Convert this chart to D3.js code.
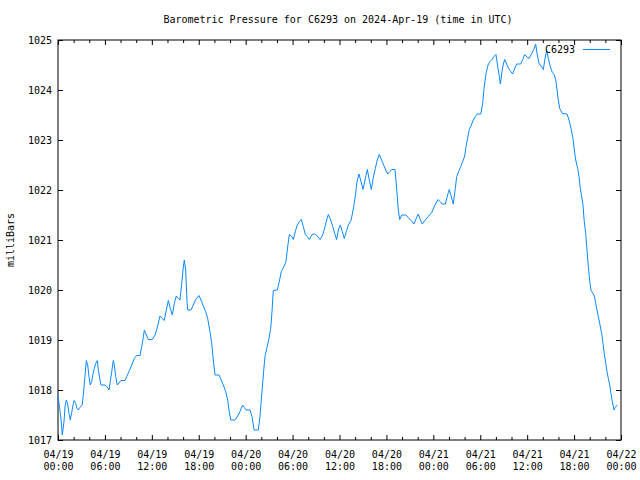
<!DOCTYPE html>
<html>
<head>
<meta charset="utf-8">
<title>Barometric Pressure C6293</title>
<script src="https://d3js.org/d3.v7.min.js"></script>
<style>
  body { margin: 0; background: #fff; }
  text { font-family: "DejaVu Sans Mono", monospace; font-size: 10px; fill: #000; }
</style>
</head>
<body>
<svg id="chart" width="640" height="480"></svg>
<script>
// hours after 2024-04-19 00:00 UTC
var hours = [0, 0.19, 0.38, 0.55, 0.77, 0.90, 1.06, 1.24, 1.41, 1.57, 1.75, 1.96, 2.08, 2.26, 2.43, 2.60, 2.78, 3.11, 3.29, 3.45,
  3.62, 3.80, 3.96, 4.13, 4.31, 4.48, 4.64, 4.82, 5.03, 5.15, 5.33, 5.50, 6.01, 6.31, 6.52, 6.69, 6.87, 7.07, 7.20, 7.38,
  7.58, 7.80, 8.06, 8.57, 8.79, 9.08, 9.43, 9.76, 10.06, 10.49, 10.70, 10.91, 11.04, 11.25, 11.55, 12.06, 12.41, 12.75, 13.04, 13.34,
  13.59, 13.85, 14.11, 14.36, 14.62, 14.87, 15.13, 15.39, 15.60, 15.82, 15.99, 16.15, 16.33, 16.50, 16.59, 17.01, 17.30, 17.61, 18.03, 18.29,
  18.58, 18.89, 19.14, 19.40, 19.66, 19.86, 20.08, 20.59, 20.85, 21.14, 21.45, 21.70, 21.87, 22.09, 22.64, 22.98, 23.28, 23.60, 23.83, 24.04,
  24.56, 24.81, 25.07, 25.62, 25.83, 26.05, 26.26, 26.47, 26.69, 26.95, 27.20, 27.37, 27.53, 28.05, 28.30, 28.56, 28.90, 29.16, 29.32, 29.58,
  29.89, 30.09, 30.35, 30.60, 30.86, 31.12, 31.37, 31.63, 31.88, 32.14, 32.48, 32.83, 33.16, 33.51, 33.85, 34.15, 34.36, 34.57, 34.88, 35.13,
  35.39, 35.64, 35.85, 36.10, 36.36, 36.61, 36.87, 37.13, 37.47, 37.64, 37.82, 38.07, 38.24, 38.49, 38.75, 39.01, 39.26, 39.56, 39.81, 40.07,
  40.32, 40.58, 40.83, 41.09, 41.40, 41.65, 41.91, 42.16, 42.46, 42.68, 43.10, 43.32, 43.52, 43.70, 43.96, 44.47, 44.80, 45.15, 45.53, 45.78,
  46.08, 46.33, 46.59, 46.93, 47.36, 47.79, 48.21, 48.60, 48.85, 49.11, 49.53, 49.79, 50.04, 50.30, 50.55, 50.81, 50.99, 51.24, 51.50, 51.76,
  52.01, 52.18, 52.35, 52.60, 52.86, 53.11, 53.37, 53.62, 54.06, 54.31, 54.48, 54.74, 54.99, 55.25, 55.50, 55.76, 56.01, 56.27, 56.44, 56.57,
  56.78, 56.95, 57.13, 57.38, 57.64, 57.90, 58.15, 58.41, 58.66, 59.17, 59.43, 59.69, 60.02, 60.24, 60.49, 60.84, 61.09, 61.26, 61.52, 61.77,
  62.07, 62.28, 62.50, 62.71, 62.96, 63.22, 63.47, 63.65, 63.82, 63.98, 64.16, 64.50, 65.10, 65.35, 65.61, 65.86, 66.03, 66.21, 66.46, 66.63,
  66.80, 66.97, 67.14, 67.30, 67.49, 67.65, 67.82, 68.00, 68.17, 68.42, 68.59, 68.77, 68.93, 69.10, 69.28, 69.53, 69.70, 69.86, 70.05, 70.21,
  70.38, 70.56, 70.72, 70.89, 71.11, 71.24, 71.41, 71.53];

var pressure = [1017.88, 1017.67, 1017.42, 1017.10, 1017.37, 1017.67, 1017.80, 1017.72, 1017.53, 1017.40, 1017.55, 1017.73, 1017.79, 1017.73, 1017.63, 1017.60, 1017.65, 1017.70, 1018.00, 1018.27,
  1018.59, 1018.50, 1018.27, 1018.10, 1018.17, 1018.33, 1018.43, 1018.53, 1018.59, 1018.41, 1018.24, 1018.10, 1018.10, 1018.06, 1018.00, 1018.17, 1018.37, 1018.59, 1018.50, 1018.27,
  1018.10, 1018.14, 1018.19, 1018.19, 1018.27, 1018.37, 1018.50, 1018.63, 1018.69, 1018.69, 1018.87, 1019.05, 1019.20, 1019.12, 1019.01, 1019.01, 1019.10, 1019.28, 1019.48, 1019.43,
  1019.39, 1019.60, 1019.79, 1019.63, 1019.50, 1019.73, 1019.88, 1019.83, 1019.80, 1020.13, 1020.40, 1020.60, 1020.40, 1019.77, 1019.60, 1019.60, 1019.70, 1019.81, 1019.89, 1019.80,
  1019.68, 1019.57, 1019.43, 1019.20, 1018.93, 1018.60, 1018.30, 1018.30, 1018.21, 1018.10, 1017.97, 1017.80, 1017.60, 1017.40, 1017.40, 1017.48, 1017.57, 1017.70, 1017.65, 1017.60,
  1017.60, 1017.47, 1017.20, 1017.20, 1017.47, 1017.90, 1018.30, 1018.67, 1018.83, 1019.00, 1019.23, 1019.57, 1019.99, 1020.00, 1020.17, 1020.37, 1020.47, 1020.57, 1020.80, 1021.11,
  1021.07, 1021.01, 1021.17, 1021.30, 1021.37, 1021.41, 1021.27, 1021.11, 1021.07, 1021.01, 1021.11, 1021.12, 1021.08, 1021.01, 1021.10, 1021.27, 1021.40, 1021.51, 1021.40, 1021.27,
  1021.13, 1021.01, 1021.20, 1021.30, 1021.17, 1021.03, 1021.17, 1021.30, 1021.39, 1021.52, 1021.67, 1021.93, 1022.17, 1022.32, 1022.17, 1022.01, 1022.20, 1022.41, 1022.20, 1022.01,
  1022.25, 1022.43, 1022.60, 1022.71, 1022.59, 1022.50, 1022.40, 1022.32, 1022.37, 1022.41, 1022.41, 1022.00, 1021.60, 1021.41, 1021.50, 1021.50, 1021.45, 1021.39, 1021.32, 1021.42,
  1021.52, 1021.41, 1021.32, 1021.39, 1021.47, 1021.55, 1021.70, 1021.81, 1021.77, 1021.72, 1021.72, 1021.88, 1022.01, 1021.87, 1021.72, 1022.03, 1022.27, 1022.37, 1022.47, 1022.57,
  1022.68, 1022.87, 1023.01, 1023.21, 1023.30, 1023.40, 1023.47, 1023.52, 1023.52, 1023.73, 1024.03, 1024.33, 1024.50, 1024.57, 1024.61, 1024.67, 1024.71, 1024.43, 1024.27, 1024.12,
  1024.37, 1024.52, 1024.61, 1024.52, 1024.43, 1024.37, 1024.32, 1024.43, 1024.52, 1024.52, 1024.61, 1024.71, 1024.65, 1024.63, 1024.70, 1024.81, 1024.92, 1024.73, 1024.53, 1024.48,
  1024.41, 1024.63, 1024.79, 1024.63, 1024.47, 1024.35, 1024.30, 1024.21, 1024.00, 1023.80, 1023.63, 1023.53, 1023.52, 1023.40, 1023.23, 1023.03, 1022.80, 1022.60, 1022.43, 1022.27,
  1022.03, 1021.87, 1021.70, 1021.37, 1021.13, 1020.80, 1020.47, 1020.17, 1019.99, 1019.93, 1019.88, 1019.73, 1019.60, 1019.47, 1019.33, 1019.13, 1018.93, 1018.73, 1018.53, 1018.37,
  1018.23, 1018.10, 1017.93, 1017.77, 1017.60, 1017.65, 1017.68, 1017.70];

var yTicks = [1017, 1018, 1019, 1020, 1021, 1022, 1023, 1024, 1025];
var xLabelHours = [0, 6, 12, 18, 24, 30, 36, 42, 48, 54, 60, 66, 72];
var xMinorHours = d3.range(0, 73, 2);

var title = "Barometric Pressure for C6293 on 2024-Apr-19 (time in UTC)";
var yTitle = "milliBars";
var seriesName = "C6293";
var lineColor = "#0a88ff";

var start = new Date(Date.UTC(2024, 3, 19, 0, 0));
function hToDate(h) { return new Date(start.getTime() + h * 3600000); }

var margin = { left: 58, right: 19, top: 40, bottom: 40 };
var width = 640, height = 480;
var svg = d3.select("#chart");

var x = d3.scaleUtc()
  .domain([hToDate(0), hToDate(72)])
  .range([margin.left, width - margin.right]);
var y = d3.scaleLinear()
  .domain([1017, 1025])
  .range([height - margin.bottom, margin.top]);

var fmtDay = d3.utcFormat("%m/%d"), fmtTime = d3.utcFormat("%H:%M");

// minor ticks every 2 hours (bottom and top, inward)
var minor = xMinorHours.filter(function (h) { return h % 6 !== 0; });
svg.append("g").attr("transform", "translate(0," + (height - margin.bottom) + ")")
  .call(d3.axisBottom(x).tickValues(minor.map(hToDate)).tickSizeInner(-3).tickSizeOuter(0).tickFormat(""))
  .call(function (g) { g.select(".domain").remove(); });
svg.append("g").attr("transform", "translate(0," + margin.top + ")")
  .call(d3.axisTop(x).tickValues(minor.map(hToDate)).tickSizeInner(-3).tickSizeOuter(0).tickFormat(""))
  .call(function (g) { g.select(".domain").remove(); });

// major x ticks with two-line labels
var xAxis = svg.append("g").attr("transform", "translate(0," + (height - margin.bottom) + ")")
  .call(d3.axisBottom(x).tickValues(xLabelHours.map(hToDate)).tickSizeInner(-5).tickSizeOuter(0).tickPadding(10).tickFormat(""))
  .call(function (g) { g.select(".domain").remove(); });
xAxis.selectAll(".tick text").remove();
xAxis.selectAll(".tick").append("text")
  .attr("text-anchor", "middle").attr("y", 18)
  .text(function (d) { return fmtDay(d); });
xAxis.selectAll(".tick").append("text")
  .attr("text-anchor", "middle").attr("y", 30)
  .text(function (d) { return fmtTime(d); });
svg.append("g").attr("transform", "translate(0," + margin.top + ")")
  .call(d3.axisTop(x).tickValues(xLabelHours.map(hToDate)).tickSizeInner(-5).tickSizeOuter(0).tickFormat(""))
  .call(function (g) { g.select(".domain").remove(); });

// y ticks, left labelled, right mirrored
svg.append("g").attr("transform", "translate(" + margin.left + ",0)")
  .call(d3.axisLeft(y).tickValues(yTicks).tickSizeInner(-5).tickSizeOuter(0).tickPadding(6).tickFormat(d3.format("d")))
  .call(function (g) { g.select(".domain").remove(); g.selectAll("text").attr("font-size", null); });
svg.append("g").attr("transform", "translate(" + (width - margin.right) + ",0)")
  .call(d3.axisRight(y).tickValues(yTicks).tickSizeInner(-5).tickSizeOuter(0).tickFormat(""))
  .call(function (g) { g.select(".domain").remove(); });

svg.selectAll(".tick line").attr("stroke", "#000");
svg.selectAll("g").attr("font-family", null).attr("font-size", null);

// border
svg.append("rect")
  .attr("x", margin.left).attr("y", margin.top)
  .attr("width", width - margin.left - margin.right)
  .attr("height", height - margin.top - margin.bottom)
  .attr("fill", "none").attr("stroke", "#000").attr("stroke-width", 1);

// data line
var pts = hours.map(function (h, i) { return { t: hToDate(h), v: pressure[i] }; });
svg.append("path").datum(pts)
  .attr("fill", "none").attr("stroke", lineColor).attr("stroke-width", 1)
  .attr("d", d3.line().x(function (d) { return x(d.t); }).y(function (d) { return y(d.v); }));

// title
svg.append("text").attr("x", 338).attr("y", 23).attr("text-anchor", "middle").text(title);
svg.append("text").attr("transform", "translate(14,240) rotate(-90)").attr("text-anchor", "middle").text(yTitle);

// legend
svg.append("text").attr("x", 575).attr("y", 53).attr("text-anchor", "end").text(seriesName);
svg.append("line").attr("x1", 583).attr("x2", 610).attr("y1", 49.5).attr("y2", 49.5)
  .attr("stroke", lineColor).attr("stroke-width", 1);
</script>
</body>
</html>
